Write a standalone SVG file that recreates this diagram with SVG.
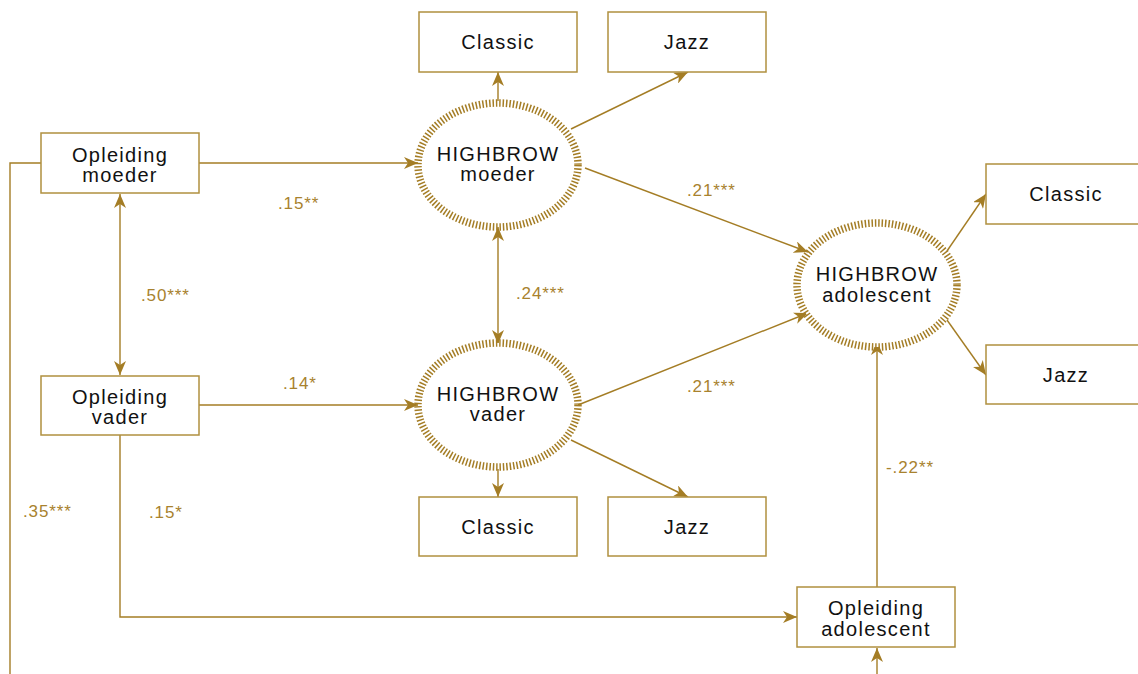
<svg xmlns="http://www.w3.org/2000/svg" width="1138" height="674" viewBox="0 0 1138 674">
<style>
.box{fill:#fff;stroke:#b0903f;stroke-width:1.5}
.t{font-family:"Liberation Sans",Arial,sans-serif;font-size:20px;letter-spacing:1.3px;fill:#111;text-anchor:middle}
.lab{font-family:"Liberation Sans",Arial,sans-serif;font-size:17px;letter-spacing:0.9px;fill:#a8822e}
.c{fill:none;stroke:#a47d25;stroke-width:1.4}
.ell{fill:#fff;stroke:#a47d25;stroke-width:7.5;stroke-dasharray:1.5 1.9}
</style>
<defs>
<marker id="ah" viewBox="0 0 14 12" markerWidth="14" markerHeight="12" refX="14" refY="6" orient="auto-start-reverse" markerUnits="userSpaceOnUse">
<path d="M0,0 L14,6 L0,12 L4,6 Z" fill="#a47d25"/>
</marker>
</defs>
<g id="connectors">
<path class="c" d="M199,163 H418" marker-end="url(#ah)"/>
<path class="c" d="M120,194 V375" marker-start="url(#ah)" marker-end="url(#ah)"/>
<path class="c" d="M199,405 H418" marker-end="url(#ah)"/>
<path class="c" d="M41,163 H10 V674"/>
<path class="c" d="M120,435 V617 H797" marker-end="url(#ah)"/>
<path class="c" d="M498,101 V72" marker-end="url(#ah)"/>
<path class="c" d="M571,129 L688,72" marker-end="url(#ah)"/>
<path class="c" d="M498,227 V344" marker-start="url(#ah)" marker-end="url(#ah)"/>
<path class="c" d="M585,168 L808,252" marker-end="url(#ah)"/>
<path class="c" d="M578,405 L808,313" marker-end="url(#ah)"/>
<path class="c" d="M498,469 V497" marker-end="url(#ah)"/>
<path class="c" d="M571,440 L688,497" marker-end="url(#ah)"/>
<path class="c" d="M947,251 L986,194" marker-end="url(#ah)"/>
<path class="c" d="M947,320 L986,375" marker-end="url(#ah)"/>
<path class="c" d="M877,587 V341" marker-end="url(#ah)"/>
<path class="c" d="M877,674 V648" marker-end="url(#ah)"/>
</g>
<g id="labels">
<text class="lab" x="278" y="209">.15**</text>
<text class="lab" x="141" y="301">.50***</text>
<text class="lab" x="283" y="389">.14*</text>
<text class="lab" x="516" y="299">.24***</text>
<text class="lab" x="687" y="196">.21***</text>
<text class="lab" x="687" y="392">.21***</text>
<text class="lab" x="23" y="517">.35***</text>
<text class="lab" x="149" y="518">.15*</text>
<text class="lab" x="886" y="473">-.22**</text>
</g>
<g id="opl-moeder"><rect class="box" x="41" y="133" width="158" height="60"/><text class="t" x="120" y="162">Opleiding</text><text class="t" x="120" y="182">moeder</text></g>
<g id="opl-vader"><rect class="box" x="41" y="376" width="158" height="59"/><text class="t" x="120" y="404">Opleiding</text><text class="t" x="120" y="424">vader</text></g>
<g id="opl-adolescent"><rect class="box" x="797" y="587" width="158" height="60"/><text class="t" x="876" y="615">Opleiding</text><text class="t" x="876" y="636">adolescent</text></g>
<g id="classic-m"><rect class="box" x="419" y="12" width="158" height="60"/><text class="t" x="498" y="49">Classic</text></g>
<g id="jazz-m"><rect class="box" x="608" y="12" width="158" height="60"/><text class="t" x="687" y="49">Jazz</text></g>
<g id="classic-v"><rect class="box" x="419" y="497" width="158" height="59"/><text class="t" x="498" y="534">Classic</text></g>
<g id="jazz-v"><rect class="box" x="608" y="497" width="158" height="59"/><text class="t" x="687" y="534">Jazz</text></g>
<g id="classic-a"><rect class="box" x="986" y="164" width="160" height="60"/><text class="t" x="1066" y="201">Classic</text></g>
<g id="jazz-a"><rect class="box" x="986" y="345" width="160" height="59"/><text class="t" x="1066" y="382">Jazz</text></g>
<g id="hb-moeder"><ellipse class="ell" cx="498" cy="165" rx="80" ry="62"/><text class="t" x="498" y="161">HIGHBROW</text><text class="t" x="498" y="181">moeder</text></g>
<g id="hb-vader"><ellipse class="ell" cx="498" cy="405" rx="80" ry="62"/><text class="t" x="498" y="401">HIGHBROW</text><text class="t" x="498" y="421">vader</text></g>
<g id="hb-adolescent"><ellipse class="ell" cx="877" cy="285" rx="80" ry="62"/><text class="t" x="877" y="281">HIGHBROW</text><text class="t" x="877" y="302">adolescent</text></g>
</svg>
